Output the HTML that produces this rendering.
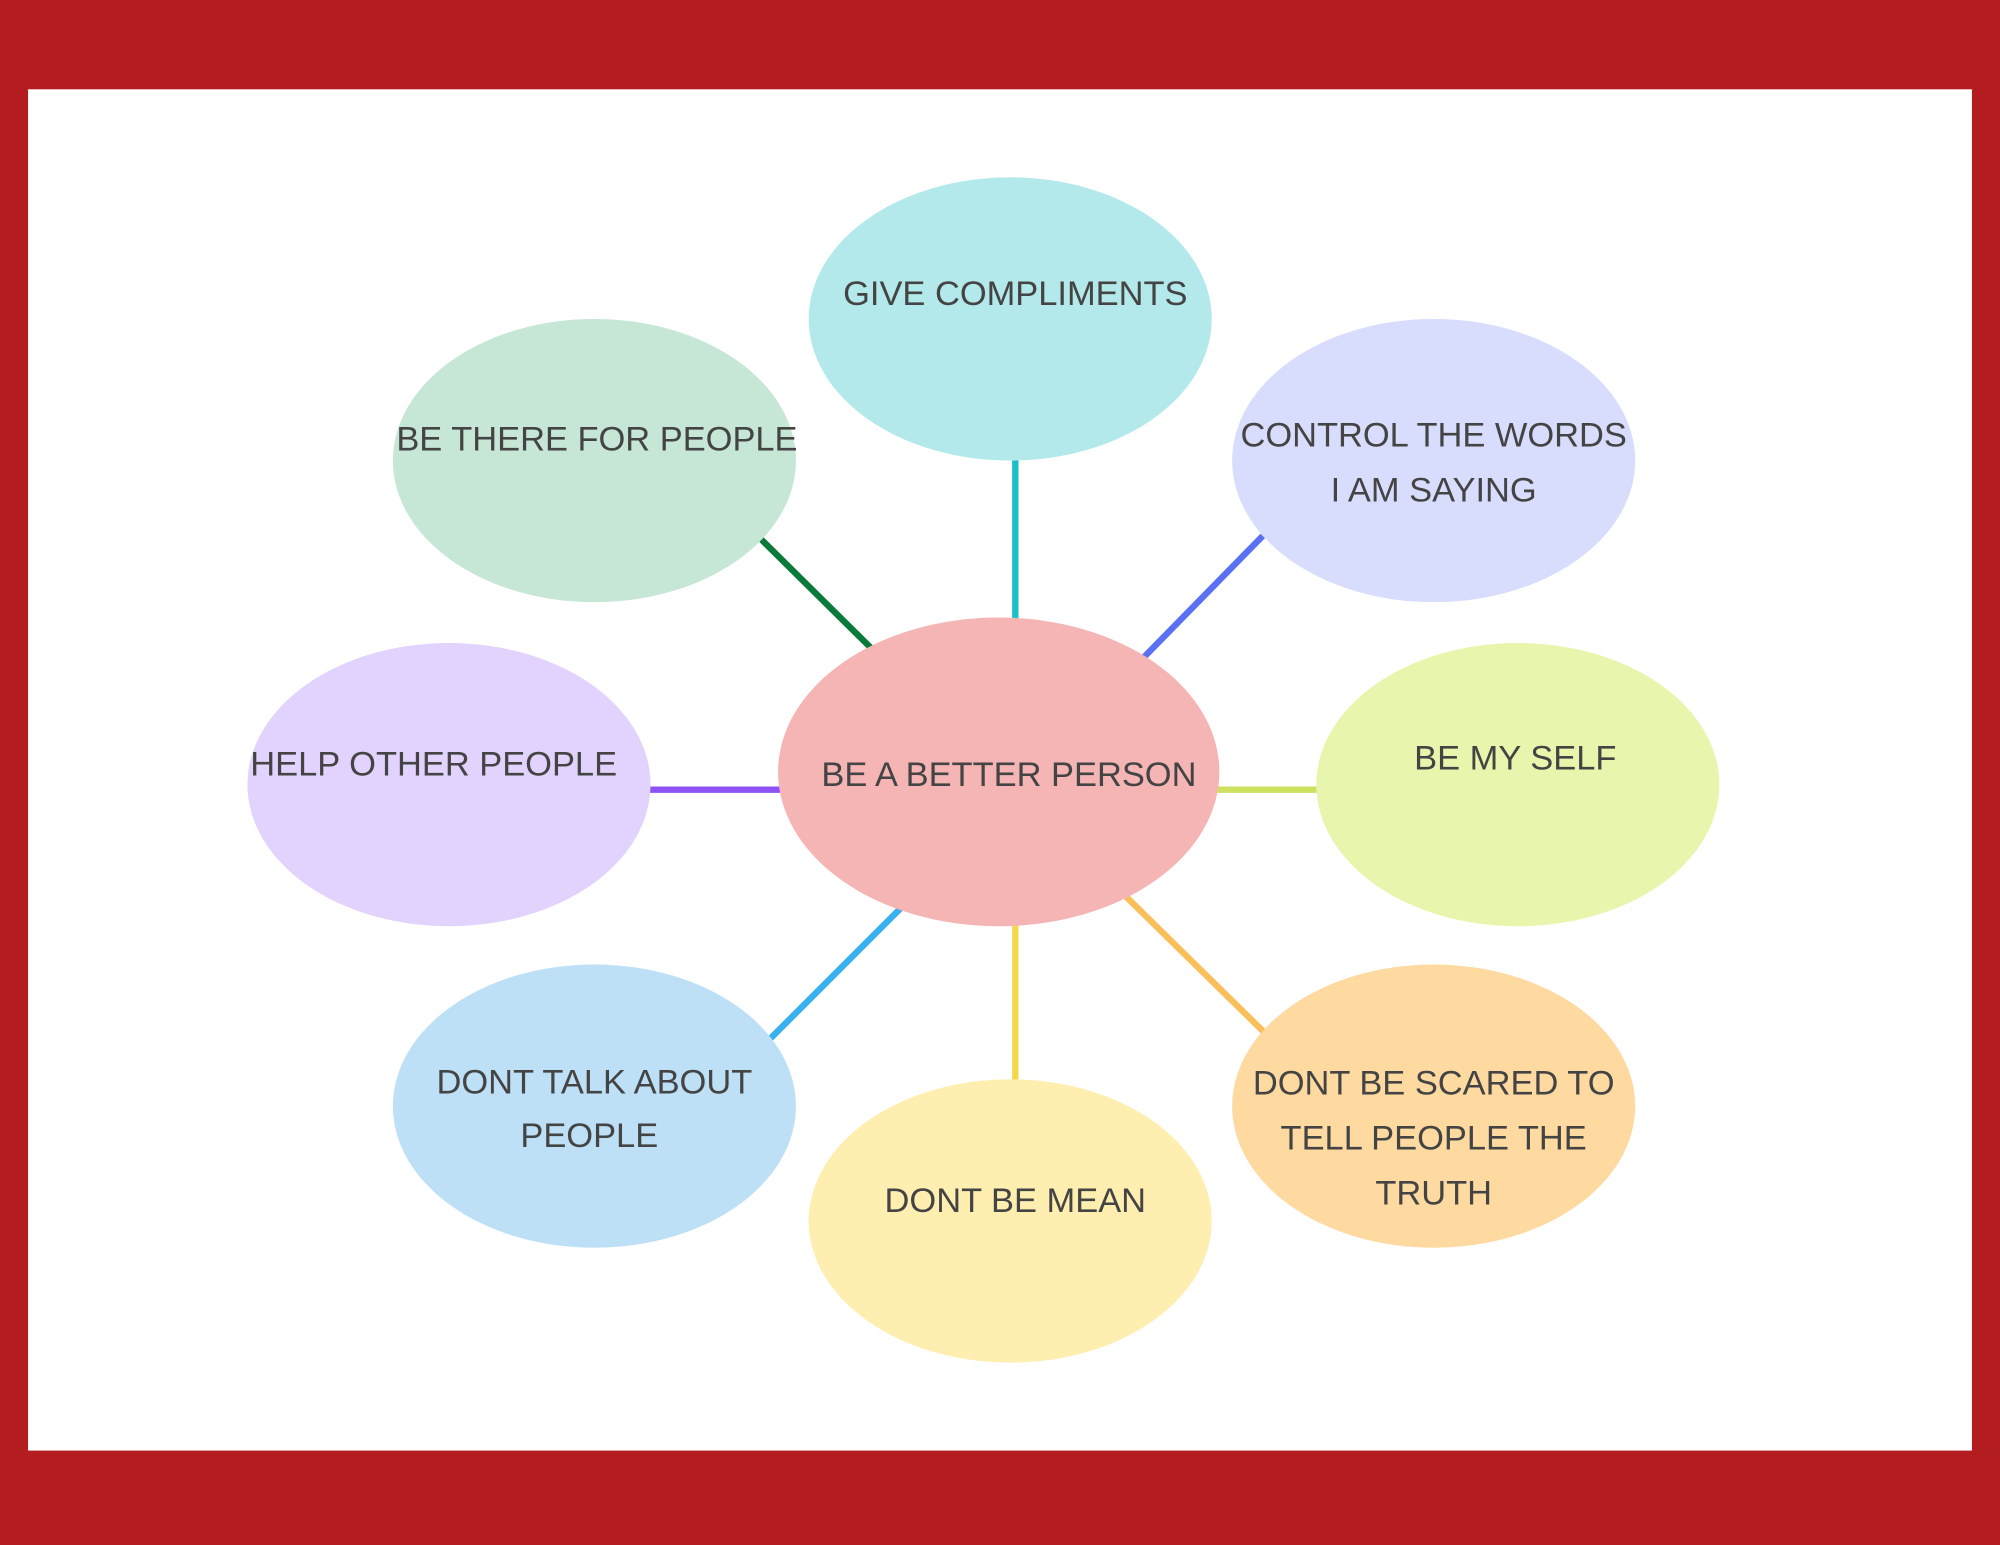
<!DOCTYPE html>
<html><head><meta charset="utf-8"><style>
html,body{margin:0;padding:0;width:2000px;height:1545px;overflow:hidden;background:#b41d20}
svg{display:block}
text{font-family:"Liberation Sans",sans-serif;font-size:27px;fill:#444;text-anchor:middle}
</style></head><body>
<svg width="2000" height="1545" viewBox="0 0 1568 1211" preserveAspectRatio="none">
<rect x="0" y="0" width="1568" height="1211" fill="#b41d20"/>
<rect x="22" y="70" width="1524" height="1067" fill="#ffffff"/>
<g stroke-width="5">
<line x1="796" y1="355" x2="796" y2="490" stroke="#1cbfc9"/>
<line x1="597" y1="423" x2="685" y2="510" stroke="#0a7a3a"/>
<line x1="990" y1="420" x2="896" y2="516" stroke="#5a70f5"/>
<line x1="505" y1="619" x2="615" y2="619" stroke="#8c52f5"/>
<line x1="950" y1="619" x2="1036" y2="619" stroke="#cde060"/>
<line x1="707" y1="711" x2="603" y2="815" stroke="#3ab0f0"/>
<line x1="796" y1="722" x2="796" y2="850" stroke="#f5d84a"/>
<line x1="882" y1="702" x2="992" y2="810" stroke="#f9bf5a"/>
</g>
<ellipse cx="792" cy="250" rx="158" ry="111" fill="#b3e9ea"/>
<ellipse cx="466" cy="361" rx="158" ry="111" fill="#c6e6d6"/>
<ellipse cx="1124" cy="361" rx="158" ry="111" fill="#d9ddfd"/>
<ellipse cx="352" cy="615" rx="158" ry="111" fill="#e1d3fd"/>
<ellipse cx="1190" cy="615" rx="158" ry="111" fill="#e8f5ad"/>
<ellipse cx="466" cy="867" rx="158" ry="111" fill="#bde0f6"/>
<ellipse cx="792" cy="957" rx="158" ry="111" fill="#feeeb0"/>
<ellipse cx="1124" cy="867" rx="158" ry="111" fill="#fed9a0"/>
<ellipse cx="783" cy="605" rx="173" ry="121" fill="#f5b5b5"/>
<text x="796" y="239">GIVE COMPLIMENTS</text>
<text x="468" y="353">BE THERE  FOR  PEOPLE</text>
<text x="1124" y="350">CONTROL THE WORDS</text>
<text x="1124" y="393">I AM SAYING</text>
<text x="340" y="608">HELP OTHER  PEOPLE</text>
<text x="791" y="616">BE A  BETTER  PERSON</text>
<text x="1188" y="603">BE  MY SELF</text>
<text x="466" y="857">DONT TALK ABOUT</text>
<text x="462" y="899">PEOPLE</text>
<text x="796" y="950">DONT  BE  MEAN</text>
<text x="1124" y="858">DONT  BE SCARED TO</text>
<text x="1124" y="901">TELL  PEOPLE THE</text>
<text x="1124" y="944">TRUTH</text>
</svg>
</body></html>
